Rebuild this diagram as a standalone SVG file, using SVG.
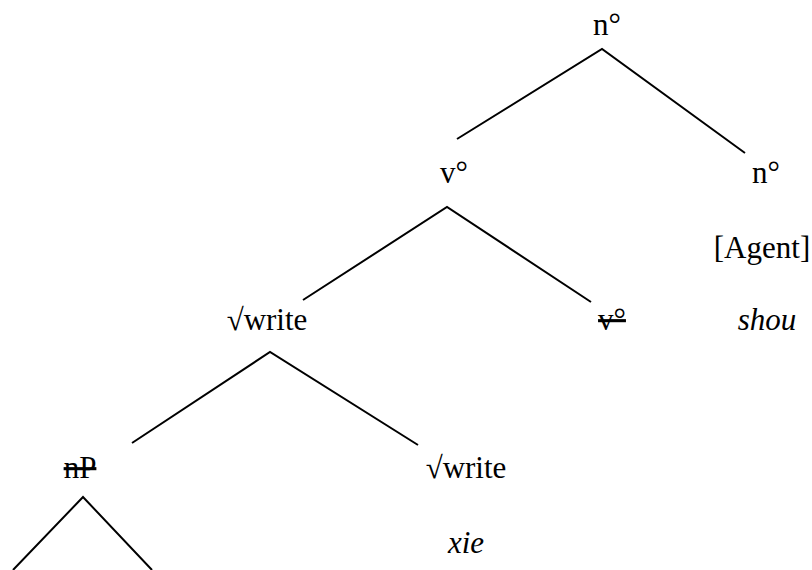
<svg xmlns="http://www.w3.org/2000/svg" width="812" height="570" viewBox="0 0 812 570">
<style>
text{font-family:"Liberation Serif","Times New Roman",serif;font-size:31px;fill:#000;text-anchor:middle}
.it{font-style:italic}
.del{text-decoration:line-through}
.edge{stroke:#000;stroke-width:2;fill:none}
</style>
<rect width="812" height="570" fill="#fff"/>
<g id="connectors">
<path class="edge" d="M457,139 L602,49 L745,153"/>
<path class="edge" d="M303,300 L447,207 L591,302"/>
<path class="edge" d="M132,443 L270,352 L418,445"/>
<path class="edge" d="M13,570 L83,497 L152,570"/>
</g>
<g id="n_top"><text x="607" y="35">n°</text></g>
<g id="v_mid"><text x="454" y="183">v°</text></g>
<g id="n_right"><text x="766" y="183">n°</text><text x="762" y="258">[Agent]</text></g>
<g id="write_mid"><text x="267" y="330">√write</text></g>
<g id="v_del"><text class="del" x="612" y="330">v°</text></g>
<g id="shou"><text class="it" x="767" y="330">shou</text></g>
<g id="nP"><text class="del" x="80" y="478">nP</text></g>
<g id="write_low"><text x="466" y="478">√write</text><text class="it" x="466" y="553">xie</text></g>
</svg>
